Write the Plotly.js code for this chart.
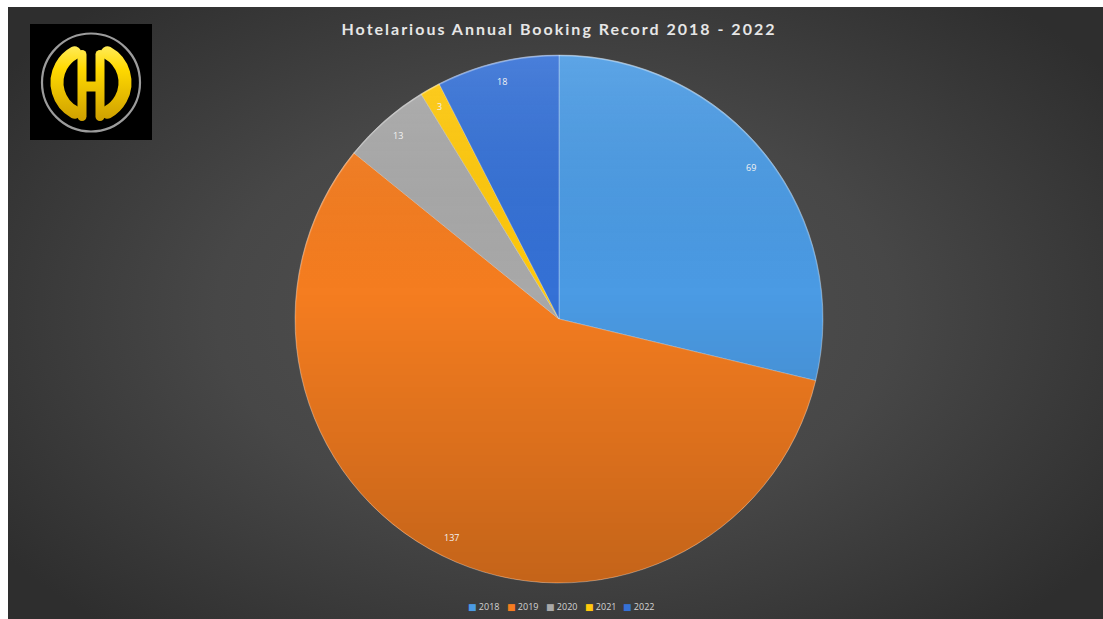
<!DOCTYPE html>
<html><head><meta charset="utf-8">
<script src="https://cdn.plot.ly/plotly-3.0.1.min.js"></script>
<style>
html,body{margin:0;padding:0;background:#fff;overflow:hidden;}
#bg{position:absolute;left:8px;top:7px;width:1095px;height:612px;
 background:radial-gradient(ellipse 62% 68% at 50% 50%, #525252 0%, #474747 50%, #2e2e2e 100%);}
#chart{position:absolute;left:0;top:0;width:1103px;height:619px;}
.gtitle{letter-spacing:2px;}
</style></head><body><div id="bg"></div><div id="chart"></div>
<script>
// ---- data ----
const years = ['2018', '2019', '2020', '2021', '2022'];
const bookings = [69, 137, 13, 3, 18];
const chartTitle = 'Hotelarious Annual Booking Record 2018 - 2022';

// ---- style ----
const sliceColors = ['#4b9be4', '#f57d20', '#a9a9a9', '#ffc90c', '#3571d6'];
const W = 1103, H = 619;
const M = {l: 0, r: 0, t: 55, b: 36};
const plotW = W - M.l - M.r, plotH = H - M.t - M.b;
const domX = [0.0136, 1];

// pie geometry in pixels (derived from layout)
const R = Math.min(plotW * (domX[1] - domX[0]), plotH) / 2;
const CX = M.l + plotW * (domX[0] + domX[1]) / 2;
const CY = M.t + plotH / 2;
const toPX = px => (px - M.l) / plotW;
const toPY = py => (M.t + plotH - py) / plotH;

// value labels at "inside end" positions computed from the data
const total = bookings.reduce((a, b) => a + b, 0);
let cum = 0;
const labelAnns = bookings.map(v => {
  const mid = (cum + v / 2) / total * 2 * Math.PI;
  cum += v;
  const rr = 0.924 * R;
  return {
    x: toPX(CX + rr * Math.sin(mid)), y: toPY(CY - rr * Math.cos(mid)),
    xref: 'paper', yref: 'paper', showarrow: false, text: String(v),
    font: {family: 'Open Sans, sans-serif', size: 9, color: '#f2f2f2'},
    xanchor: 'center', yanchor: 'middle'
  };
});

// compact legend (small square keys next to the year) built from the same arrays
const legendCenterX = 561, legendY = 606, legendStep = 39;
const legendAnns = years.map((yr, i) => ({
  x: toPX(legendCenterX + (i - (years.length - 1) / 2) * legendStep),
  y: toPY(legendY), xref: 'paper', yref: 'paper',
  showarrow: false, xanchor: 'center', yanchor: 'middle',
  text: '<span style="color:' + sliceColors[i] + ';font-family:DejaVu Sans">■</span> ' + yr,
  font: {family: 'Open Sans, sans-serif', size: 9, color: '#d4d4d4'}
}));

function logoURI() {
  const w = 122, h = 116, c = document.createElement('canvas');
  c.width = w; c.height = h;
  const g = c.getContext('2d');
  g.fillStyle = '#000'; g.fillRect(0, 0, w, h);
  const cx = 61, cy = 58.5;
  g.beginPath(); g.arc(cx, cy, 49, 0, 2 * Math.PI);
  g.lineWidth = 2.2; g.strokeStyle = '#9c9c9c'; g.stroke();
  const yg = g.createLinearGradient(0, cy - 45, 0, cy + 45);
  yg.addColorStop(0, '#fff27a'); yg.addColorStop(0.35, '#ffd900'); yg.addColorStop(1, '#c89800');
  g.strokeStyle = yg; g.fillStyle = yg; g.lineCap = 'round';
  g.lineWidth = 13;
  g.beginPath(); g.arc(cx, cy, 34, Math.PI * 0.66, Math.PI * 1.34); g.stroke();
  g.beginPath(); g.arc(cx, cy, 34, -Math.PI * 0.34, Math.PI * 0.34); g.stroke();
  g.lineWidth = 9;
  g.beginPath(); g.moveTo(cx - 9, cy - 28); g.lineTo(cx - 9, cy + 34); g.stroke();
  g.beginPath(); g.moveTo(cx + 9, cy - 28); g.lineTo(cx + 9, cy + 34); g.stroke();
  g.fillRect(cx - 9, cy - 1, 18, 10);
  return c.toDataURL();
}

function glossURI() {
  const s = 528, c = document.createElement('canvas');
  c.width = s; c.height = s;
  const g = c.getContext('2d');
  g.beginPath(); g.arc(s / 2, s / 2, s / 2 - 0.5, 0, 2 * Math.PI); g.closePath();
  const lg = g.createLinearGradient(0, 0, 0, s);
  lg.addColorStop(0, 'rgba(255,255,255,0.10)');
  lg.addColorStop(0.45, 'rgba(0,0,0,0)');
  lg.addColorStop(1, 'rgba(0,0,0,0.20)');
  g.fillStyle = lg; g.fill();
  const rg = g.createLinearGradient(0, 0, 0, s);
  rg.addColorStop(0, 'rgba(255,255,255,0.35)');
  rg.addColorStop(0.5, 'rgba(255,255,255,0.05)');
  rg.addColorStop(1, 'rgba(255,255,255,0.0)');
  g.lineWidth = 1.5; g.strokeStyle = rg; g.stroke();
  return c.toDataURL();
}

const trace = {
  type: 'pie',
  labels: years,
  values: bookings,
  sort: false,
  direction: 'clockwise',
  rotation: 0,
  textinfo: 'none',
  hoverinfo: 'label+value+percent',
  showlegend: false,
  domain: {x: domX, y: [0, 1]},
  marker: {colors: sliceColors, line: {color: 'rgba(255,255,255,0.30)', width: 1}}
};

const layout = {
  width: W, height: H,
  margin: M,
  paper_bgcolor: 'rgba(0,0,0,0)',
  plot_bgcolor: 'rgba(0,0,0,0)',
  title: {
    text: chartTitle,
    font: {family: 'Lato, Open Sans, sans-serif', size: 16, weight: 700, color: '#e6e6e6'},
    x: CX / W, xref: 'container', xanchor: 'center',
    y: 1 - 29 / H, yref: 'container', yanchor: 'middle'
  },
  showlegend: false,
  annotations: labelAnns.concat(legendAnns),
  images: [
    {source: logoURI(), xref: 'paper', yref: 'paper', x: toPX(30), y: toPY(24),
     sizex: 122 / plotW, sizey: 116 / plotH, sizing: 'stretch', xanchor: 'left', yanchor: 'top', layer: 'above'},
    {source: glossURI(), xref: 'paper', yref: 'paper', x: toPX(CX - R), y: toPY(CY - R),
     sizex: 2 * R / plotW, sizey: 2 * R / plotH, sizing: 'stretch', xanchor: 'left', yanchor: 'top', layer: 'above'}
  ]
};

Plotly.newPlot('chart', [trace], layout, {displayModeBar: false, staticPlot: true});
</script>
</body></html>
